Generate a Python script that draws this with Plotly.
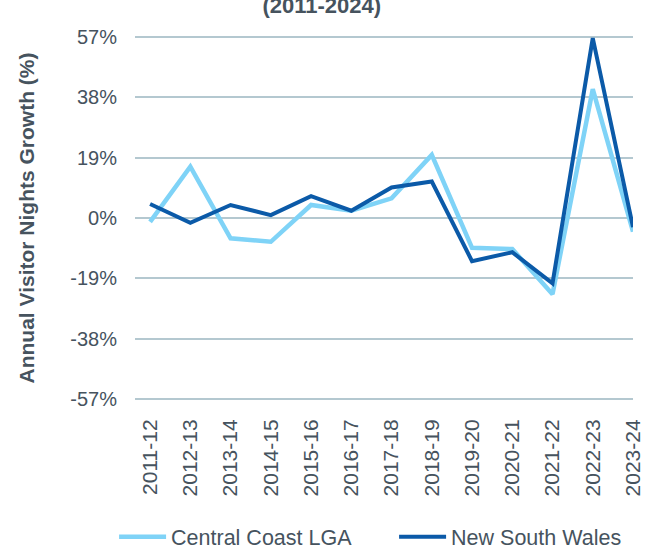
import plotly.graph_objects as go

# Financial years and annual visitor-night growth (%)
years = ["2011-12", "2012-13", "2013-14", "2014-15", "2015-16", "2016-17", "2017-18",
         "2018-19", "2019-20", "2020-21", "2021-22", "2022-23", "2023-24"]
central_coast = [-1.2, 16.2, -6.4, -7.5, 4.1, 2.3, 6.2, 19.9, -9.4, -9.8, -24.0, 40.6, -4.3]
nsw = [4.4, -1.5, 4.1, 0.9, 6.9, 2.3, 9.6, 11.5, -13.6, -10.8, -20.6, 56.7, -2.9]
y_ticks = [-57, -38, -19, 0, 19, 38, 57]

TEXT = "#46535e"
GRID = "#b4c8d0"
FONT = "Arial, Liberation Sans, sans-serif"

fig = go.Figure()
fig.add_trace(go.Scatter(x=years, y=central_coast, mode="lines", name="Central Coast LGA",
                         line=dict(color="#7fd3f7", width=4.5)))
fig.add_trace(go.Scatter(x=years, y=nsw, mode="lines", name="New South Wales",
                         line=dict(color="#0b5aa8", width=4)))

fig.update_layout(
    width=654, height=551,
    margin=dict(l=135, r=21, t=34, b=149, autoexpand=False),
    paper_bgcolor="white", plot_bgcolor="white",
    font=dict(family=FONT, color=TEXT, size=20),
    title=dict(text="<b>(2011-2024)</b>", font=dict(size=22, color=TEXT),
               x=0.492, xanchor="center", xref="container",
               y=1 - 13 / 551, yanchor="bottom", yref="container"),
    showlegend=True,
    legend=dict(orientation="h", x=-0.042, xanchor="left",
                y=-0.366, yanchor="middle",
                font=dict(size=21.5, color=TEXT),
                itemwidth=47, entrywidth=218, tracegroupgap=0),
)

fig.update_xaxes(type="category", range=[-0.375, 12], tickangle=-90,
                 showgrid=False, zeroline=False, showline=False,
                 ticks="outside", ticklen=8, tickcolor="rgba(0,0,0,0)",
                 tickfont=dict(size=21, color=TEXT))
fig.update_yaxes(range=[-58, 58], tickvals=y_ticks, ticktext=[f"{v}%" for v in y_ticks],
                 showgrid=True, gridcolor=GRID, gridwidth=1.5,
                 zeroline=False, showline=False,
                 ticks="outside", ticklen=13, tickcolor="rgba(0,0,0,0)",
                 tickfont=dict(size=20, color=TEXT),
                 title=dict(text="<b>Annual Visitor Nights Growth (%)</b>",
                            font=dict(size=21, color=TEXT), standoff=29))

fig.write_html("out.html")
